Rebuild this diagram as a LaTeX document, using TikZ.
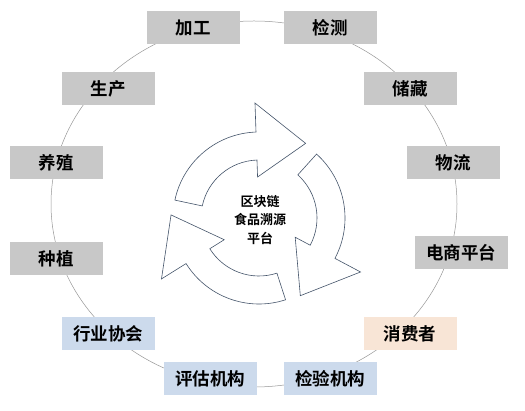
\documentclass[tikz,border=0pt]{standalone}
\usepackage{fontspec}
\newfontfamily\cjk{Noto Sans CJK SC}[BoldFont={Noto Sans CJK SC Bold}]
\definecolor{stagegray}{RGB}{200,200,200}
\definecolor{stageblue}{RGB}{204,218,236}
\definecolor{stagepeach}{RGB}{248,229,214}
\definecolor{ringline}{RGB}{150,150,150}
\definecolor{arrowline}{RGB}{68,84,106}

\begin{document}
\begin{tikzpicture}[x=1pt, y=1pt,
		stage/.style={shape=rectangle, minimum width=93pt, minimum height=33pt, inner sep=0pt, font=\cjk\bfseries\fontsize{17.5}{20}\selectfont},
		chainstage/.style={stage, fill=stagegray},
		auditstage/.style={stage, fill=stageblue},
		userstage/.style={stage, fill=stagepeach},
		cyclearrow/.style={draw=arrowline, line width=0.6pt, fill=white, line join=miter}]
			\useasboundingbox (0, 0) rectangle (525, 411);
			\coordinate (ringcenter) at (254, 207);
			\coordinate (hub) at (259, 193);
			\draw[ringline, line width=0.5pt] (ringcenter) ellipse [x radius=203, y radius=183];
			% supply chain stages
			\node[chainstage] (process) at (193, 383) {加工};
			\node[chainstage] (inspect) at (330, 383) {检测};
			\node[chainstage] (produce) at (108, 322) {生产};
			\node[chainstage] (storage) at (410, 322) {储藏};
			\node[chainstage] (breed) at (56, 248) {养殖};
			\node[chainstage] (logistics) at (453, 248) {物流};
			\node[chainstage] (plant) at (56, 152) {种植};
			\node[chainstage] (ecommerce) at (461, 158) {电商平台};
			% supervision and users
			\node[auditstage] (association) at (108, 77) {行业协会};
			\node[userstage] (consumer) at (410, 77) {消费者};
			\node[auditstage] (assessor) at (210, 32) {评估机构};
			\node[auditstage] (testlab) at (330, 32) {检验机构};
			% cycle arrows round the platform
			\foreach \turn in {0, 120, 240}
				\draw[cyclearrow, shift={(hub)}, rotate=-\turn] (168:86) arc[start angle=168, end angle=92, radius=86] -- (92:115) -- (58:88) -- (92:41) -- (92:58) arc[start angle=92, end angle=168, radius=58] -- cycle;
			\node[align=center, font=\cjk\bfseries\fontsize{13}{18.5}\selectfont] (platform) at (260, 191) {区块链\\食品溯源\\平台};
		\end{tikzpicture}
\end{document}
